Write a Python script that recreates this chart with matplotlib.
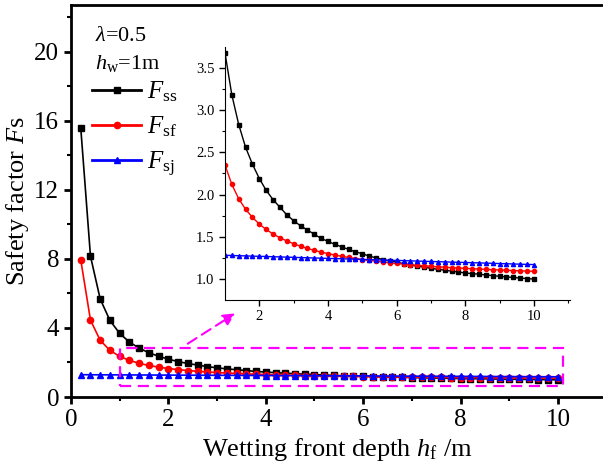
import numpy as np
import matplotlib
matplotlib.use('Agg')
import matplotlib.pyplot as plt
from matplotlib.patches import Rectangle

plt.rcParams['font.family'] = ['Liberation Serif', 'DejaVu Serif']
plt.rcParams['mathtext.fontset'] = 'custom'
plt.rcParams['mathtext.rm'] = 'Liberation Serif'
plt.rcParams['mathtext.it'] = 'Liberation Serif:italic'

# ---------------------------------- data -------------------------------------
hf = [0.2, 0.4, 0.6, 0.8, 1.0, 1.2, 1.4, 1.6, 1.8, 2.0,
      2.2, 2.4, 2.6, 2.8, 3.0, 3.2, 3.4, 3.6, 3.8, 4.0,
      4.2, 4.4, 4.6, 4.8, 5.0, 5.2, 5.4, 5.6, 5.8, 6.0,
      6.2, 6.4, 6.6, 6.8, 7.0, 7.2, 7.4, 7.6, 7.8, 8.0,
      8.2, 8.4, 8.6, 8.8, 9.0, 9.2, 9.4, 9.6, 9.8, 10.0]

F_ss = [15.60, 8.15, 5.67, 4.43, 3.68, 3.18, 2.83, 2.56, 2.36, 2.19,
        2.05, 1.94, 1.85, 1.76, 1.69, 1.63, 1.58, 1.53, 1.48, 1.445,
        1.41, 1.38, 1.35, 1.32, 1.30, 1.27, 1.25, 1.23, 1.21, 1.20,
        1.18, 1.166, 1.15, 1.14, 1.126, 1.114, 1.103, 1.092, 1.082, 1.07,
        1.063, 1.055, 1.047, 1.039, 1.031, 1.024, 1.017, 1.01, 1.004, 0.998]

F_sf = [7.95, 4.45, 3.28, 2.70, 2.35, 2.12, 1.95, 1.825, 1.73, 1.65,
        1.586, 1.533, 1.488, 1.45, 1.417, 1.388, 1.362, 1.339, 1.318, 1.30,
        1.283, 1.268, 1.254, 1.242, 1.23, 1.219, 1.209, 1.20, 1.191, 1.183,
        1.176, 1.169, 1.162, 1.156, 1.15, 1.144, 1.139, 1.134, 1.129, 1.125,
        1.121, 1.117, 1.113, 1.109, 1.106, 1.102, 1.099, 1.096, 1.093, 1.09]

F_sj = [1.290, 1.288, 1.285, 1.283, 1.280, 1.278, 1.275, 1.273, 1.270, 1.268,
        1.266, 1.263, 1.261, 1.258, 1.256, 1.253, 1.251, 1.248, 1.246, 1.243,
        1.241, 1.239, 1.236, 1.234, 1.231, 1.229, 1.226, 1.224, 1.221, 1.219,
        1.217, 1.214, 1.212, 1.209, 1.207, 1.204, 1.202, 1.199, 1.197, 1.195,
        1.192, 1.190, 1.187, 1.185, 1.182, 1.180, 1.177, 1.175, 1.172, 1.170]

labels = [r'$F_{\rm ss}$', r'$F_{\rm sf}$', r'$F_{\rm sj}$']
colors = ['black', 'red', 'blue']
markers = ['s', 'o', '^']
series = [F_ss, F_sf, F_sj]

# ------------------------------- main axes -----------------------------------
fig = plt.figure(figsize=(6.03, 4.70), dpi=100)
ax = fig.add_axes([71/603, 1 - 397/470, 1 - 71/603 + 0.002, 392/470])

for y, c, m, lab in zip(series, colors, markers, labels):
    ax.plot(hf, y, color=c, marker=m, markersize=4.5, lw=1.2, label=lab)

ax.set_xlim(0, 10.95)
ax.set_ylim(0, 22.7)
ax.set_xticks([0, 2, 4, 6, 8, 10])
ax.set_xticks([1, 3, 5, 7, 9], minor=True)
ax.set_yticks([0, 4, 8, 12, 16, 20])
ax.set_yticks([2, 6, 10, 14, 18, 22], minor=True)
ax.spines['right'].set_visible(False)
for s in ['left', 'bottom', 'top']:
    ax.spines[s].set_linewidth(2)
ax.tick_params(which='major', direction='out', length=5, width=2, labelsize=18)
ax.tick_params(which='minor', direction='out', length=3, width=1.5)
ax.set_xlabel(r'Wetting front depth $h_{\rm f}$ /m', fontsize=19, labelpad=4)
ax.set_ylabel(r'Safety factor $F$s', fontsize=19, labelpad=2)

ax.text(0.045, 0.92, r'$\lambda$=0.5', transform=ax.transAxes, fontsize=16,
        va='center')
ax.text(0.045, 0.85, r'$h_{\rm w}$=1m', transform=ax.transAxes, fontsize=16,
        va='center')

leg = ax.legend(loc='upper left', bbox_to_anchor=(0.04, 0.81), frameon=False,
                fontsize=18, handlelength=1.95, labelspacing=0.42,
                handletextpad=0.25, borderpad=0, borderaxespad=0)
for h in leg.legend_handles:
    h.set_linewidth(2)

# zoom box and arrow
ax.add_patch(Rectangle((1.0, 0.66), 9.1, 2.2, fill=False, ec='magenta',
                       lw=1.6, ls=(0, (5, 3)), zorder=5))
ax.annotate('', xy=(3.42, 4.93), xytext=(2.35, 3.0),
            arrowprops=dict(arrowstyle='-|>', color='magenta', lw=1.5,
                            ls=(0, (5, 3)), mutation_scale=18))

# ------------------------------- inset ---------------------------------------
ins = fig.add_axes([225/603, 1 - 300/470, 345/603, 253/470])
for y, c, m in zip(series, colors, markers):
    ins.plot(hf, y, color=c, marker=m, markersize=3, lw=1)
ins.set_xlim(1, 11.05)
ins.set_ylim(0.75, 3.75)
ins.set_xticks([2, 4, 6, 8, 10])
ins.set_xticks([3, 5, 7, 9, 11], minor=True)
ins.set_yticks([1.0, 1.5, 2.0, 2.5, 3.0, 3.5])
ins.set_yticks([1.25, 1.75, 2.25, 2.75, 3.25], minor=True)
ins.yaxis.set_major_formatter(matplotlib.ticker.FormatStrFormatter('%.1f'))
ins.spines['right'].set_visible(False)
ins.spines['top'].set_visible(False)
ins.patch.set_alpha(0)
ins.tick_params(which='major', direction='out', length=4, width=1, labelsize=10.5)
ins.tick_params(which='minor', direction='out', length=2, width=0.8)

fig.savefig('out.png', dpi=100)
